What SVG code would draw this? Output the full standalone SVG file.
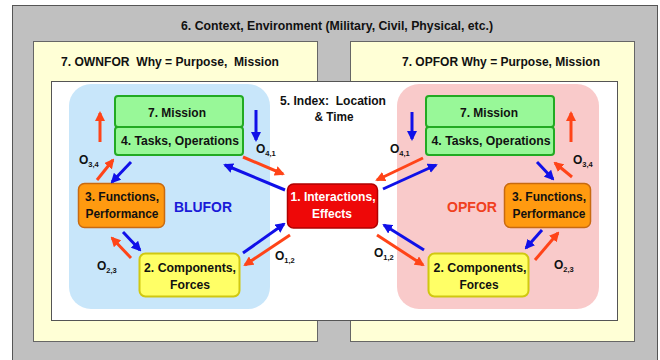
<svg xmlns="http://www.w3.org/2000/svg" width="660" height="360" viewBox="0 0 660 360">
<defs>
<marker id="ab" markerUnits="userSpaceOnUse" markerWidth="10" markerHeight="10" refX="8" refY="5" orient="auto"><path d="M0,0 L10,5 L0,10 Z" fill="#1010e8"/></marker>
<marker id="ar" markerUnits="userSpaceOnUse" markerWidth="10" markerHeight="10" refX="8" refY="5" orient="auto"><path d="M0,0 L10,5 L0,10 Z" fill="#ff4418"/></marker>
</defs>
<style>
text{font-family:"Liberation Sans Narrow","Liberation Sans",Arial,sans-serif;font-weight:bold;fill:#111;}
.t{font-size:13.5px;text-anchor:middle;}
.n{font-size:13px;text-anchor:middle;}
.o{font-size:12px;}
.s{font-size:7.5px;}
.b{stroke:#1010e8;stroke-width:3;fill:none;marker-end:url(#ab);}
.r{stroke:#ff4418;stroke-width:3;fill:none;marker-end:url(#ar);}
.green{fill:#98f898;stroke:#22aa22;stroke-width:2;}
</style>
<rect x="0" y="0" width="660" height="360" fill="#ffffff"/>
<g id="context">
<rect x="12.5" y="5.5" width="645" height="360" fill="#c0c0c0" stroke="#555" stroke-width="1"/>
<text class="t" x="337" y="30" textLength="312" lengthAdjust="spacingAndGlyphs">6. Context, Environment (Military, Civil, Physical, etc.)</text>
</g>
<g id="ownfor-why">
<rect x="33.5" y="41.5" width="284" height="300" fill="#ffffd6" stroke="#666" stroke-width="1"/>
<text class="t" x="170" y="66" xml:space="preserve" textLength="218" lengthAdjust="spacingAndGlyphs">7. OWNFOR  Why = Purpose,  Mission</text>
</g>
<g id="opfor-why">
<rect x="350.5" y="41.5" width="284" height="300" fill="#ffffd6" stroke="#666" stroke-width="1"/>
<text class="t" x="501" y="66" textLength="198" lengthAdjust="spacingAndGlyphs">7. OPFOR Why = Purpose, Mission</text>
</g>
<g id="index">
<rect x="51.5" y="81.5" width="566" height="239" fill="#ffffff" stroke="#555" stroke-width="1"/>
<text class="t" x="333" y="105" xml:space="preserve" textLength="106" lengthAdjust="spacingAndGlyphs">5. Index:  Location</text>
<text class="t" x="334" y="121" textLength="39" lengthAdjust="spacingAndGlyphs">&amp; Time</text>
</g>
<g id="blufor">
<rect x="69" y="84" width="201" height="225" rx="22" fill="#c8e6fa"/>
<text x="203" y="212" font-size="15" text-anchor="middle" style="fill:#1a1ad8" textLength="58" lengthAdjust="spacingAndGlyphs">BLUFOR</text>
</g>
<g id="opfor">
<rect x="397" y="84" width="202" height="225" rx="22" fill="#f9caca"/>
<text x="472" y="212" font-size="15" text-anchor="middle" style="fill:#f04020" textLength="50" lengthAdjust="spacingAndGlyphs">OPFOR</text>
</g>
<g id="mission-l">
<rect class="green" x="115" y="96" width="128" height="31" rx="3"/>
<text class="n" x="177" y="117" textLength="58" lengthAdjust="spacingAndGlyphs">7. Mission</text>
</g>
<g id="tasks-l">
<rect class="green" x="115" y="127" width="128" height="28" rx="3"/>
<text class="n" x="180" y="145" textLength="118" lengthAdjust="spacingAndGlyphs">4. Tasks, Operations</text>
</g>
<g id="functions-l">
<rect x="78.5" y="183.5" width="86" height="44" rx="6" fill="#ff9a10" stroke="#c86a10" stroke-width="1.5"/>
<text class="n" x="122" y="201" textLength="74" lengthAdjust="spacingAndGlyphs">3. Functions,</text>
<text class="n" x="122" y="218" textLength="73" lengthAdjust="spacingAndGlyphs">Performance</text>
</g>
<g id="components-l">
<rect x="139.5" y="253.5" width="100" height="43" rx="6" fill="#ffff66" stroke="#d0c810" stroke-width="2"/>
<text class="n" x="190" y="272" textLength="92" lengthAdjust="spacingAndGlyphs">2. Components,</text>
<text class="n" x="190" y="289" textLength="40" lengthAdjust="spacingAndGlyphs">Forces</text>
</g>
<g id="interactions">
<rect x="287.5" y="184" width="90" height="44" rx="6" fill="#ee0808" stroke="#b00000" stroke-width="1.5"/>
<text class="n" x="333" y="201" style="fill:#fff" textLength="85" lengthAdjust="spacingAndGlyphs">1. Interactions,</text>
<text class="n" x="332" y="218" style="fill:#fff" textLength="40" lengthAdjust="spacingAndGlyphs">Effects</text>
</g>
<g id="mission-r">
<rect class="green" x="426" y="96" width="128" height="31" rx="3"/>
<text class="n" x="489" y="117" textLength="58" lengthAdjust="spacingAndGlyphs">7. Mission</text>
</g>
<g id="tasks-r">
<rect class="green" x="426" y="127" width="128" height="28" rx="3"/>
<text class="n" x="491" y="145" textLength="119" lengthAdjust="spacingAndGlyphs">4. Tasks, Operations</text>
</g>
<g id="functions-r">
<rect x="504.5" y="183.5" width="86" height="44" rx="6" fill="#ff9a10" stroke="#c86a10" stroke-width="1.5"/>
<text class="n" x="549" y="201" textLength="74" lengthAdjust="spacingAndGlyphs">3. Functions,</text>
<text class="n" x="549" y="218" textLength="73" lengthAdjust="spacingAndGlyphs">Performance</text>
</g>
<g id="components-r">
<rect x="428.5" y="253.5" width="100" height="43" rx="6" fill="#ffff66" stroke="#d0c810" stroke-width="2"/>
<text class="n" x="480" y="272" textLength="93" lengthAdjust="spacingAndGlyphs">2. Components,</text>
<text class="n" x="479" y="289" textLength="39" lengthAdjust="spacingAndGlyphs">Forces</text>
</g>
<g id="connectors">
<line class="r" x1="100" y1="142" x2="100" y2="113"/>
<line class="r" x1="97" y1="180" x2="113" y2="160"/>
<line class="b" x1="131" y1="162" x2="112" y2="182"/>
<line class="b" x1="123" y1="232" x2="140" y2="250"/>
<line class="r" x1="131" y1="258" x2="112" y2="238"/>
<line class="b" x1="256" y1="110" x2="256" y2="140"/>
<line class="r" x1="243" y1="157" x2="283" y2="174"/>
<line class="b" x1="285" y1="190" x2="225" y2="165"/>
<line class="b" x1="243" y1="253" x2="284" y2="224"/>
<line class="r" x1="290" y1="235" x2="245" y2="265"/>
<line class="b" x1="412" y1="112" x2="412" y2="139"/>
<line class="r" x1="423" y1="158" x2="377" y2="180"/>
<line class="b" x1="383" y1="189" x2="436" y2="165"/>
<line class="b" x1="424" y1="250" x2="384" y2="225"/>
<line class="r" x1="377" y1="235" x2="423" y2="265"/>
<line class="r" x1="571" y1="142" x2="571" y2="113"/>
<line class="b" x1="537" y1="162" x2="553" y2="179"/>
<line class="r" x1="572" y1="177" x2="555" y2="163"/>
<line class="b" x1="542" y1="230" x2="526" y2="248"/>
<line class="r" x1="535" y1="260" x2="558" y2="233"/>
</g>
<g id="labels">
<text class="o" x="79" y="164">O<tspan class="s" dy="3">3,4</tspan></text>
<text class="o" x="256" y="153">O<tspan class="s" dy="3">4,1</tspan></text>
<text class="o" x="97" y="270">O<tspan class="s" dy="3">2,3</tspan></text>
<text class="o" x="275" y="260">O<tspan class="s" dy="3">1,2</tspan></text>
<text class="o" x="390" y="153">O<tspan class="s" dy="3">4,1</tspan></text>
<text class="o" x="573" y="164">O<tspan class="s" dy="3">3,4</tspan></text>
<text class="o" x="374" y="257">O<tspan class="s" dy="3">1,2</tspan></text>
<text class="o" x="554" y="269">O<tspan class="s" dy="3">2,3</tspan></text>
</g>
</svg>
